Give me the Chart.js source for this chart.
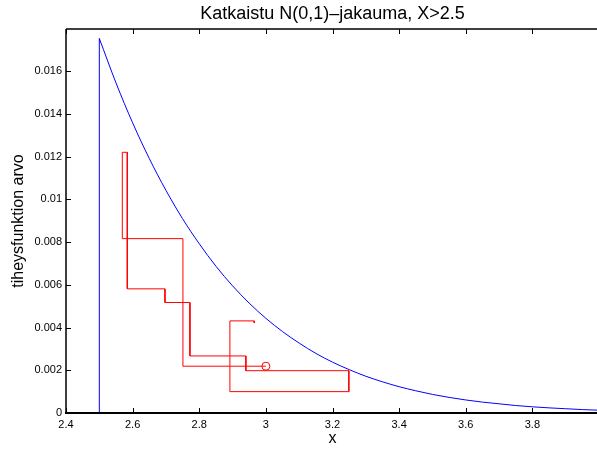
<!DOCTYPE html>
<html>
<head>
<meta charset="utf-8">
<script src="https://cdn.jsdelivr.net/npm/chart.js@4/dist/chart.umd.min.js"></script>
<style>
  body { margin: 0; background: #fff; }
  #wrap { width: 597px; height: 450px; overflow: hidden; }
</style>
</head>
<body>
<div id="wrap"><canvas id="pdfChart" width="604" height="450"></canvas></div>
<script>
// truncated N(0,1) density
const curveX = [2.50, 2.55, 2.60, 2.65, 2.70, 2.75, 2.80, 2.85, 2.90, 2.95,
                3.00, 3.05, 3.10, 3.15, 3.20, 3.25, 3.30, 3.35, 3.40, 3.45,
                3.50, 3.55, 3.60, 3.65, 3.70, 3.75, 3.80, 3.85, 3.90, 3.95, 4.00];
const curveY = [0.01753, 0.01545, 0.01358, 0.01191, 0.01042, 0.00909, 0.00792, 0.00687, 0.00595, 0.00514,
                0.00443, 0.00381, 0.00327, 0.00279, 0.00238, 0.00203, 0.00172, 0.00146, 0.00123, 0.00104,
                0.00087, 0.00073, 0.00061, 0.00051, 0.00043, 0.00035, 0.00029, 0.00024, 0.00020, 0.00016, 0.00013];

// vertical cut at x = 2.5
const cutX = [2.5, 2.5];
const cutY = [0, 0.01753];

// sampler path (red), starts at the circle
const pathX = [3.00, 2.751, 2.751, 2.569, 2.569, 2.584, 2.584, 2.697, 2.697, 2.772,
               2.772, 2.940, 2.940, 3.249, 3.249, 2.892, 2.892, 2.965, 2.965];
const pathY = [0.00219, 0.00219, 0.00816, 0.00816, 0.0122, 0.0122, 0.00581, 0.00581, 0.00517, 0.00517,
               0.00267, 0.00267, 0.00198, 0.00198, 0.00100, 0.00100, 0.00431, 0.00431, 0.00421];
const startX = [3.00];
const startY = [0.00219];

const xTicks = [2.4, 2.6, 2.8, 3.0, 3.2, 3.4, 3.6, 3.8];
const yTicks = [0, 0.002, 0.004, 0.006, 0.008, 0.010, 0.012, 0.014, 0.016];

const zip = (xs, ys) => xs.map((x, i) => ({ x, y: ys[i] }));
const fontFam = "'Liberation Sans', Arial, Helvetica, sans-serif";

// MATLAB style box with inward ticks
const matlabAxes = {
	id: "matlabAxes",
	afterDraw(chart) {
		const { ctx, chartArea: a, scales } = chart;
		ctx.save();
		ctx.strokeStyle = "#000";
		ctx.lineWidth = 1.5;
		ctx.beginPath();
		ctx.moveTo(a.left, a.top);
		ctx.lineTo(a.right, a.top);
		ctx.moveTo(a.left, a.top);
		ctx.lineTo(a.left, a.bottom);
		ctx.stroke();
		ctx.lineWidth = 2;
		ctx.beginPath();
		ctx.moveTo(a.left - 1, a.bottom);
		ctx.lineTo(a.right, a.bottom);
		ctx.stroke();
		ctx.lineWidth = 1;
		ctx.beginPath();
		xTicks.forEach((v) => {
			const px = Math.round(scales.x.getPixelForValue(v)) + 0.5;
			ctx.moveTo(px, a.bottom);
			ctx.lineTo(px, a.bottom - 5);
			ctx.moveTo(px, a.top);
			ctx.lineTo(px, a.top + 5);
		});
		yTicks.forEach((v) => {
			const py = Math.round(scales.y.getPixelForValue(v)) + 0.5;
			ctx.moveTo(a.left, py);
			ctx.lineTo(a.left + 5, py);
		});
		ctx.stroke();
		ctx.restore();
	},
};

new Chart(document.getElementById("pdfChart"), {
	type: "scatter",
	data: {
		datasets: [
			{
				data: zip(cutX, cutY),
				showLine: true,
				borderColor: "#0000ff",
				borderWidth: 1,
				pointRadius: 0,
			},
			{
				data: zip(curveX, curveY),
				showLine: true,
				borderColor: "#0000ff",
				borderWidth: 1,
				pointRadius: 0,
				cubicInterpolationMode: "monotone",
			},
			{
				data: zip(pathX, pathY),
				showLine: true,
				borderColor: "#ff0000",
				borderWidth: 1,
				pointRadius: 0,
			},
			{
				data: zip(startX, startY),
				showLine: false,
				borderColor: "#ff0000",
				backgroundColor: "rgba(0,0,0,0)",
				borderWidth: 1,
				pointRadius: 4,
				pointStyle: "circle",
			},
		],
	},
	options: {
		responsive: false,
		animation: false,
		layout: { padding: 0 },
		plugins: {
			legend: { display: false },
			tooltip: { enabled: false },
			title: {
				display: true,
				fullSize: false,
				text: "Katkaistu N(0,1)–jakauma, X>2.5",
				color: "#000",
				font: { family: fontFam, size: 18, weight: "normal", lineHeight: 1.2 },
				padding: { top: 3.5, bottom: 3.9 },
			},
		},
		scales: {
			x: {
				type: "linear",
				min: 2.4,
				max: 4.0,
				afterBuildTicks: (s) => { s.ticks = xTicks.map((v) => ({ value: v })); },
				afterFit: (s) => { s.height = 37; },
				grid: { display: false, drawTicks: false },
				border: { display: false },
				ticks: {
					color: "#000",
					padding: 5,
					maxRotation: 0,
					autoSkip: false,
					font: { family: fontFam, size: 11 },
					callback: (v) => String(+v.toFixed(4)),
				},
				title: {
					display: true,
					text: "x",
					color: "#000",
					font: { family: fontFam, size: 16 },
					padding: { top: 0, bottom: 1.4 },
				},
			},
			y: {
				type: "linear",
				min: 0,
				max: 0.01797,
				afterBuildTicks: (s) => { s.ticks = yTicks.map((v) => ({ value: v })); },
				afterFit: (s) => { s.width = 66; },
				grid: { display: false, drawTicks: false },
				border: { display: false },
				ticks: {
					color: "#000",
					padding: 4,
					autoSkip: false,
					font: { family: fontFam, size: 11 },
					callback: (v) => String(+v.toFixed(4)),
				},
				title: {
					display: true,
					text: "tiheysfunktion arvo",
					color: "#000",
					font: { family: fontFam, size: 16 },
					padding: { top: 9.4, bottom: 0 },
				},
			},
		},
	},
	plugins: [matlabAxes],
});
</script>
</body>
</html>
